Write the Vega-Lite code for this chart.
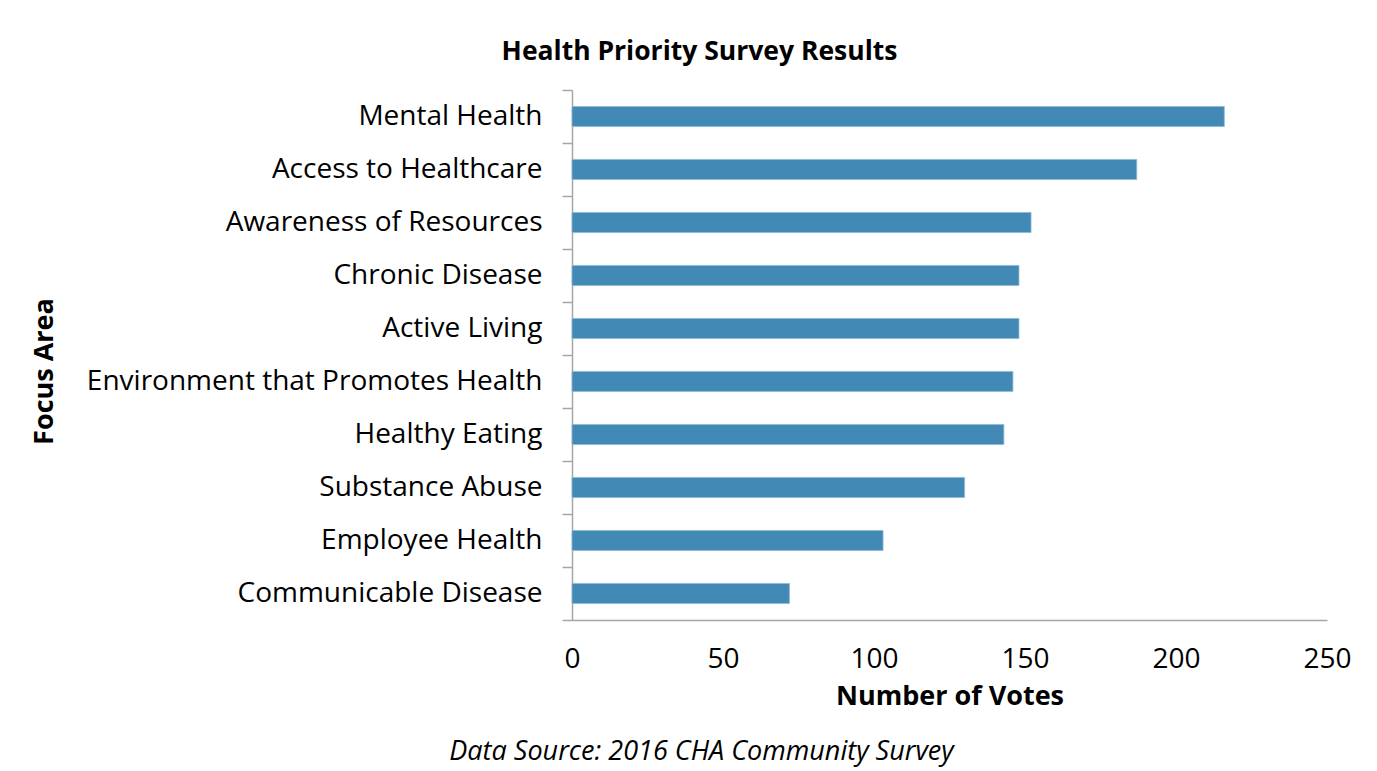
{
  "$schema": "https://vega.github.io/schema/vega-lite/v6.json",
  "padding": {"left": 30, "top": 38, "right": 20, "bottom": 10},
  "background": "white",
  "title": {
    "text": "Data Source: 2016 CHA Community Survey",
    "orient": "bottom",
    "anchor": "middle",
    "frame": "bounds",
    "font": "Open Sans",
    "fontSize": 27,
    "fontStyle": "italic",
    "fontWeight": "normal",
    "color": "#000000",
    "offset": 30,
    "dx": 11
  },
  "vconcat": [
    {
      "width": 755,
      "height": 530,
      "title": {
        "text": "Health Priority Survey Results",
        "anchor": "middle",
        "frame": "bounds",
        "font": "Open Sans",
        "fontSize": 26.5,
        "fontWeight": "bold",
        "color": "#000000",
        "offset": 11,
        "dx": 9
      },
      "data": {
        "values": [
          {"area": "Mental Health", "votes": 216},
          {"area": "Access to Healthcare", "votes": 187},
          {"area": "Awareness of Resources", "votes": 152},
          {"area": "Chronic Disease", "votes": 148},
          {"area": "Active Living", "votes": 148},
          {"area": "Environment that Promotes Health", "votes": 146},
          {"area": "Healthy Eating", "votes": 143},
          {"area": "Substance Abuse", "votes": 130},
          {"area": "Employee Health", "votes": 103},
          {"area": "Communicable Disease", "votes": 72}
        ]
      },
      "mark": {"type": "bar", "color": "#428AB5", "stroke": "#8DBAD6", "strokeWidth": 0.8, "height": {"band": 0.38}},
      "encoding": {
        "y": {
          "field": "area",
          "type": "nominal",
          "sort": null,
          "scale": {"paddingInner": 0, "paddingOuter": 0},
          "axis": {
            "title": "Focus Area",
            "titleFont": "Open Sans",
            "titleFontSize": 27,
            "titleFontWeight": "bold",
            "titleColor": "#000000",
            "titleAngle": -90,
            "titleAlign": "center",
            "titleBaseline": "middle",
            "titleX": -528,
            "titleY": 281,
            "labelFont": "Open Sans",
            "labelFontSize": 28,
            "labelColor": "#000000",
            "labelPadding": 20,
            "labelLimit": 700,
            "tickBand": "extent",
            "tickSize": 10,
            "tickColor": "#A6A6A6",
            "domainColor": "#A6A6A6",
            "tickWidth": 1.5,
            "domainWidth": 1.5
          }
        },
        "x": {
          "field": "votes",
          "type": "quantitative",
          "scale": {"domain": [0, 250]},
          "axis": {
            "title": "Number of Votes",
            "titleFont": "Open Sans",
            "titleFontSize": 27,
            "titleFontWeight": "bold",
            "titleColor": "#000000",
            "titlePadding": 10,
            "labelFont": "Open Sans",
            "labelFontSize": 28,
            "labelColor": "#000000",
            "labelPadding": 25,
            "values": [0, 50, 100, 150, 200, 250],
            "ticks": false,
            "grid": false,
            "domainColor": "#A6A6A6",
            "domainWidth": 1.5,
            "labelFlush": false
          }
        }
      }
    }
  ],
  "config": {"view": {"stroke": null}}
}
